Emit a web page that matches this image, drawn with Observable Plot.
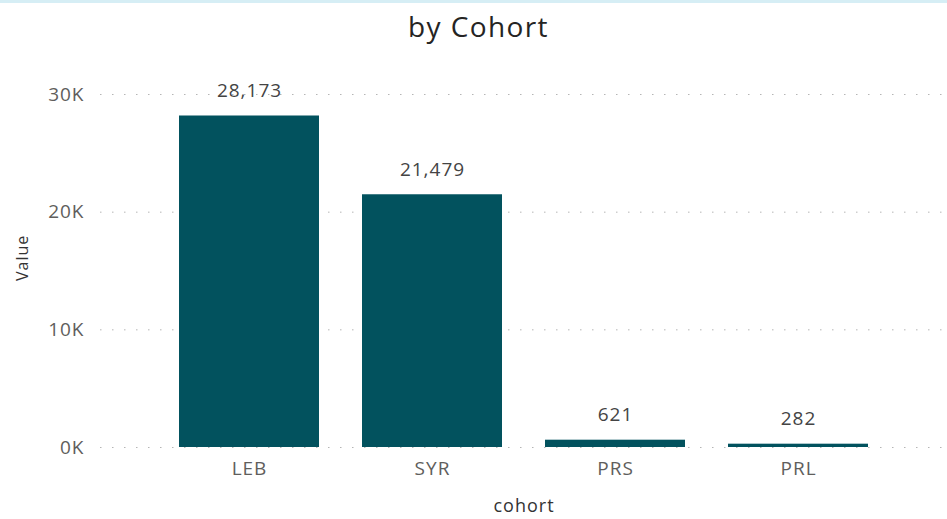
<!DOCTYPE html>
<html><head><meta charset="utf-8">
<script src="https://cdn.jsdelivr.net/npm/d3@7"></script>
<script src="https://cdn.jsdelivr.net/npm/@observablehq/plot@0.6"></script>
<style>
body{margin:0;background:#fff;font-family:"Open Sans",sans-serif;}
#wrap{width:947px;height:519px;position:relative;overflow:hidden;border-top:3px solid #d6eef5;box-sizing:border-box;}
#title{height:46px;line-height:46px;text-align:center;font-size:28px;letter-spacing:1.4px;padding-left:10px;font-weight:500;color:#252423;}
#chart svg text{letter-spacing:1px;}
</style></head><body>
<div id="wrap"><div id="title">by Cohort</div><div id="chart"></div></div>
<script>
const cohorts = ["LEB","SYR","PRS","PRL"];
const values = [28173,21479,621,282];
const yTicks = [0,10000,20000,30000];
const yTickLabels = ["0K","10K","20K","30K"];
const xTitle = "cohort";
const yTitle = "Value";

const data = cohorts.map((c,i)=>({cohort:c, value:values[i]}));
const fmt = d3.format(",");

const chart = Plot.plot({
  width: 947,
  height: 470,
  marginTop: 45,
  marginBottom: 72,
  marginLeft: 100,
  marginRight: 0,
  style: {fontFamily: "Open Sans, sans-serif", fontSize: "19px", color: "#605E5C", background: "#fff", overflow: "visible"},
  x: {domain: cohorts, paddingInner: 0.237, paddingOuter: 0.427},
  y: {domain: [0, 30000]},
  marks: [
    Plot.gridY(yTicks, {stroke: "#b5b5b5", strokeOpacity: 1, strokeDasharray: "1.5,10.5"}),
    Plot.barY(data, {x: "cohort", y: "value", fill: "#02525E"}),
    Plot.text(data, {x: "cohort", y: "value", text: d => fmt(d.value), dy: -25, fill: "#444", fontSize: 19}),
    Plot.axisY({ticks: yTicks, tickFormat: (d) => yTickLabels[yTicks.indexOf(d)], tickSize: 0, tickPadding: 16, label: null, fill: "#605E5C", fontSize: 19}),
    Plot.axisX({tickSize: 0, tickPadding: 14, label: null, fill: "#605E5C", fontSize: 19}),
    Plot.text([xTitle], {frameAnchor: "bottom", dy: 64, fill: "#333", fontSize: 18}),
    Plot.text([yTitle], {frameAnchor: "left", rotate: -90, dx: -78, dy: 10, fill: "#333", fontSize: 16})
  ]
});
document.getElementById("chart").appendChild(chart);
</script>
</body></html>
